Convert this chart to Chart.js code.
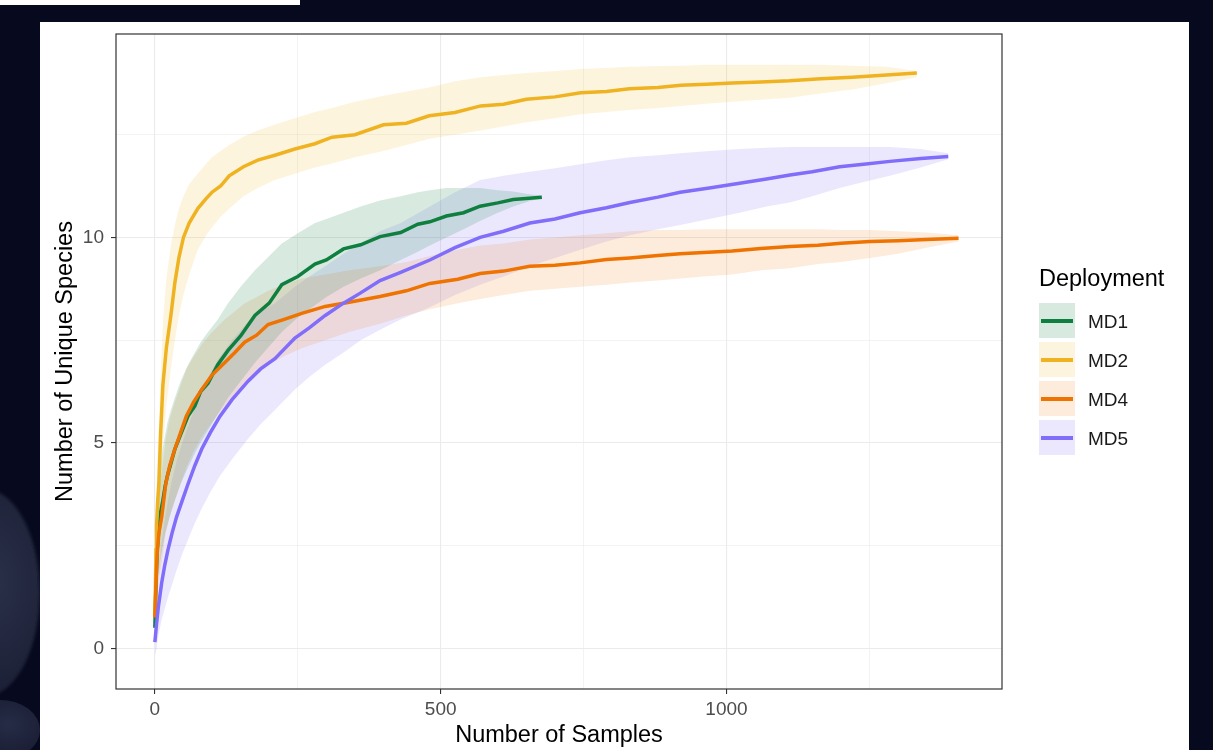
<!DOCTYPE html>
<html>
<head>
<meta charset="utf-8">
<title>Rarefaction by deployment</title>
<script src="https://cdn.jsdelivr.net/npm/chart.js@4.4.1/dist/chart.umd.min.js"></script>
<style>
    html, body { margin: 0; padding: 0; }
    body {
        width: 1213px;
        height: 750px;
        background: #070a1e;
        position: relative;
        overflow: hidden;
        font-family: "Liberation Sans", Arial, sans-serif;
    }
    .strip { position: absolute; left: 0; top: 0; width: 300px; height: 5px; background: #fff; }
    .blob {
        position: absolute; left: -72px; top: 490px; width: 110px; height: 205px;
        border-radius: 50%;
        background: radial-gradient(ellipse at 60% 45%, #2a3049 0%, #1f243b 55%, #12162a 100%);
        box-shadow: 0 0 5px rgba(140, 150, 185, 0.4);
    }
    .blob2 {
        position: absolute; left: -40px; top: 700px; width: 80px; height: 60px;
        border-radius: 50%;
        background: radial-gradient(ellipse at 60% 40%, #262c46 0%, #12162a 100%);
    }
    .panel { position: absolute; left: 40px; top: 22px; width: 1149px; height: 728px; background: #fff; }
    .panel canvas { position: absolute; left: 0; top: 0; }
    .legend-title { position: absolute; left: 999px; top: 243px; font-size: 23.5px; color: #000; }
    .key { position: absolute; left: 999px; width: 36px; height: 35px; }
    .key span { position: absolute; left: 2px; top: 15.5px; width: 32px; height: 4px; }
    .key-label { position: absolute; left: 1048px; font-size: 19px; color: #1a1a1a; line-height: 22px; }
</style>
</head>
<body>
<div class="strip"></div>
<div class="blob"></div>
<div class="blob2"></div>
<div class="panel">
    <canvas id="rarefaction-chart" width="1149" height="728"></canvas>
    <div class="legend-title">Deployment</div>
    <div id="legend"></div>
</div>
<script>
// Axis ticks
var xMajor = [0, 500, 1000];
var xMinor = [250, 750, 1250];
var yMajor = [0, 5, 10];
var yMinor = [2.5, 7.5, 12.5];

var deployments = ['MD1', 'MD2', 'MD4', 'MD5'];
var lineColors = ['#0f7f3f', '#efb321', '#ef7300', '#806dfa'];
var bandColors = ['rgba(15,127,63,0.16)', 'rgba(239,179,33,0.15)', 'rgba(239,115,0,0.14)', 'rgba(128,109,250,0.16)'];

// MD1
var md1X  = [0, 2, 4, 7, 10, 14, 18, 22, 28, 35, 45, 58, 70, 80, 93, 110, 128, 150, 175, 200, 222, 250, 280, 300, 330, 360, 394, 430, 460, 481, 510, 540, 569, 600, 627, 655, 677];
var md1Y  = [0.5, 1.6, 2.4, 2.9, 3.3, 3.6, 3.95, 4.2, 4.5, 4.85, 5.2, 5.65, 5.9, 6.25, 6.45, 6.9, 7.25, 7.6, 8.1, 8.4, 8.85, 9.05, 9.35, 9.45, 9.72, 9.82, 10.02, 10.12, 10.32, 10.38, 10.52, 10.6, 10.76, 10.84, 10.92, 10.95, 10.98];
var md1Lo = [0.0, 0.8, 1.4, 1.9, 2.2, 2.5, 2.8, 3.0, 3.3, 3.6, 4.0, 4.4, 4.75, 5.0, 5.3, 5.7, 6.1, 6.5, 6.95, 7.35, 7.7, 8.05, 8.35, 8.55, 8.8, 9.0, 9.2, 9.45, 9.65, 9.8, 10.0, 10.2, 10.4, 10.6, 10.75, 10.88, 10.95];
var md1Hi = [1.0, 2.5, 3.4, 4.0, 4.5, 4.9, 5.2, 5.5, 5.8, 6.1, 6.5, 6.9, 7.2, 7.45, 7.7, 8.0, 8.4, 8.8, 9.2, 9.55, 9.85, 10.1, 10.35, 10.45, 10.6, 10.75, 10.9, 11.0, 11.1, 11.15, 11.2, 11.2, 11.2, 11.15, 11.12, 11.05, 11.02];

// MD2
var md2X  = [0, 1, 2, 3, 5, 7, 10, 14, 20, 28, 35, 42, 50, 60, 75, 90, 100, 115, 130, 155, 180, 210, 245, 280, 310, 350, 400, 440, 480, 525, 570, 610, 650, 700, 745, 790, 830, 880, 920, 965, 1010, 1060, 1110, 1165, 1220, 1280, 1333];
var md2Y  = [0.8, 1.5, 2.4, 3.0, 3.6, 4.0, 5.2, 6.4, 7.3, 8.1, 8.9, 9.5, 10.0, 10.35, 10.7, 10.95, 11.1, 11.25, 11.5, 11.72, 11.88, 12.0, 12.15, 12.28, 12.44, 12.5, 12.74, 12.78, 12.96, 13.04, 13.2, 13.24, 13.36, 13.42, 13.52, 13.55, 13.62, 13.65, 13.7, 13.73, 13.76, 13.78, 13.81, 13.86, 13.9, 13.95, 14.0];
var md2Lo = [0.3, 0.8, 1.4, 1.9, 2.4, 2.9, 3.9, 4.9, 5.9, 6.8, 7.5, 8.1, 8.6, 9.1, 9.7, 10.05, 10.25, 10.5, 10.7, 11.0, 11.2, 11.4, 11.55, 11.7, 11.8, 11.95, 12.1, 12.25, 12.4, 12.5, 12.6, 12.7, 12.8, 12.9, 13.0, 13.05, 13.1, 13.15, 13.2, 13.25, 13.3, 13.35, 13.4, 13.5, 13.6, 13.75, 13.9];
var md2Hi = [1.4, 2.3, 3.3, 4.0, 4.8, 5.4, 6.6, 7.9, 9.0, 9.8, 10.3, 10.7, 11.0, 11.3, 11.55, 11.8, 11.95, 12.1, 12.25, 12.45, 12.6, 12.75, 12.9, 13.05, 13.15, 13.3, 13.45, 13.55, 13.65, 13.8, 13.9, 13.95, 14.0, 14.05, 14.1, 14.12, 14.15, 14.17, 14.18, 14.2, 14.2, 14.2, 14.2, 14.2, 14.18, 14.15, 14.05];

// MD4
var md4X  = [0, 2, 4, 7, 12, 19, 26, 35, 45, 55, 68, 82, 100, 122, 140, 157, 178, 198, 225, 257, 298, 340, 394, 440, 481, 530, 569, 610, 656, 700, 744, 790, 831, 880, 919, 960, 1010, 1060, 1111, 1160, 1200, 1251, 1300, 1350, 1406];
var md4Y  = [0.75, 1.6, 2.3, 2.8, 3.2, 4.0, 4.45, 4.85, 5.25, 5.65, 6.0, 6.3, 6.65, 6.95, 7.2, 7.45, 7.62, 7.88, 8.0, 8.15, 8.32, 8.42, 8.56, 8.7, 8.88, 8.98, 9.12, 9.18, 9.3, 9.32, 9.38, 9.46, 9.5, 9.56, 9.6, 9.63, 9.67, 9.73, 9.78, 9.81, 9.86, 9.9, 9.92, 9.95, 9.98];
var md4Lo = [0.1, 0.8, 1.3, 1.7, 2.1, 2.8, 3.2, 3.6, 4.0, 4.4, 4.8, 5.15, 5.5, 5.9, 6.2, 6.45, 6.7, 6.9, 7.1, 7.3, 7.5, 7.7, 7.9, 8.1, 8.25, 8.4, 8.5, 8.6, 8.7, 8.75, 8.8, 8.85, 8.9, 8.95, 9.0, 9.05, 9.1, 9.2, 9.25, 9.35, 9.4, 9.5, 9.6, 9.75, 9.9];
var md4Hi = [1.4, 2.4, 3.2, 3.8, 4.3, 5.1, 5.6, 6.0, 6.4, 6.8, 7.1, 7.4, 7.7, 8.0, 8.2, 8.4, 8.55, 8.7, 8.85, 9.0, 9.1, 9.2, 9.3, 9.4, 9.55, 9.7, 9.8, 9.85, 9.95, 10.0, 10.05, 10.1, 10.15, 10.18, 10.18, 10.2, 10.2, 10.2, 10.2, 10.2, 10.18, 10.18, 10.15, 10.12, 10.05];

// MD5
var md5X  = [0, 3, 6, 9, 12, 17, 23, 30, 38, 48, 58, 70, 82, 97, 114, 135, 163, 185, 210, 245, 270, 298, 330, 360, 394, 430, 481, 525, 569, 610, 656, 700, 744, 790, 831, 880, 919, 970, 1023, 1070, 1111, 1150, 1198, 1240, 1286, 1340, 1388];
var md5Y  = [0.15, 0.6, 1.0, 1.3, 1.6, 2.0, 2.4, 2.8, 3.2, 3.6, 4.0, 4.45, 4.85, 5.25, 5.65, 6.05, 6.5, 6.8, 7.05, 7.55, 7.8, 8.1, 8.4, 8.65, 8.95, 9.15, 9.45, 9.75, 10.0, 10.15, 10.35, 10.45, 10.6, 10.72, 10.85, 10.98, 11.1, 11.2, 11.32, 11.42, 11.52, 11.6, 11.72, 11.78, 11.85, 11.92, 11.97];
var md5Lo = [-0.2, 0.0, 0.3, 0.5, 0.7, 0.95, 1.25, 1.55, 1.9, 2.3, 2.65, 3.05, 3.4, 3.8, 4.2, 4.6, 5.1, 5.45, 5.8, 6.3, 6.6, 6.9, 7.2, 7.5, 7.75, 8.0, 8.3, 8.6, 8.85, 9.05, 9.3, 9.5, 9.7, 9.9, 10.05, 10.2, 10.3, 10.45, 10.6, 10.75, 10.85, 11.0, 11.2, 11.35, 11.5, 11.7, 11.9];
var md5Hi = [0.6, 1.3, 1.8, 2.2, 2.6, 3.1, 3.6, 4.1, 4.55, 5.0, 5.4, 5.85, 6.3, 6.7, 7.1, 7.5, 7.95, 8.2, 8.4, 8.8, 9.05, 9.3, 9.6, 9.85, 10.15, 10.35, 10.75, 11.1, 11.4, 11.5, 11.6, 11.68, 11.78, 11.88, 11.95, 12.0, 12.05, 12.1, 12.15, 12.18, 12.2, 12.2, 12.2, 12.2, 12.2, 12.15, 12.05];

var seriesX  = [md1X, md2X, md4X, md5X];
var seriesY  = [md1Y, md2Y, md4Y, md5Y];
var seriesLo = [md1Lo, md2Lo, md4Lo, md5Lo];
var seriesHi = [md1Hi, md2Hi, md4Hi, md5Hi];

function points(xs, ys) {
    return xs.map(function(x, i) { return {x: x, y: ys[i]}; });
}

function isIn(list, v) {
    return list.indexOf(v) !== -1;
}

var FONT = '"Liberation Sans", Arial, sans-serif';

var datasets = [];
// ribbons first (hi fills down to the lo dataset right after it)
deployments.forEach(function(name, i) {
    datasets.push({
        label: name + ' hi',
        data: points(seriesX[i], seriesHi[i]),
        borderWidth: 0,
        pointRadius: 0,
        backgroundColor: bandColors[i],
        fill: '+1',
        order: 10 + i
    });
    datasets.push({
        label: name + ' lo',
        data: points(seriesX[i], seriesLo[i]),
        borderWidth: 0,
        pointRadius: 0,
        fill: false,
        order: 10 + i
    });
});
// then the lines, MD5 on top
deployments.forEach(function(name, i) {
    datasets.push({
        label: name,
        data: points(seriesX[i], seriesY[i]),
        borderColor: lineColors[i],
        borderWidth: 3.5,
        pointRadius: 0,
        fill: false,
        tension: 0,
        order: 4 - i
    });
});

var panelBorder = {
    id: 'panelBorder',
    afterDraw: function(chart) {
        var a = chart.chartArea;
        var ctx = chart.ctx;
        ctx.save();
        ctx.strokeStyle = '#333333';
        ctx.lineWidth = 1.2;
        ctx.strokeRect(a.left, a.top, a.right - a.left, a.bottom - a.top);
        ctx.restore();
    }
};

new Chart(document.getElementById('rarefaction-chart'), {
    type: 'line',
    data: { datasets: datasets },
    plugins: [panelBorder],
    options: {
        responsive: false,
        animation: false,
        layout: { padding: { top: 12, right: 187, left: 0, bottom: 0 } },
        plugins: {
            legend: { display: false },
            tooltip: { enabled: false },
            filler: { drawTime: 'beforeDatasetsDraw' }
        },
        scales: {
            x: {
                type: 'linear',
                min: -68,
                max: 1482,
                afterBuildTicks: function(scale) {
                    scale.ticks = xMajor.concat(xMinor).sort(function(a, b) { return a - b; })
                        .map(function(v) { return {value: v}; });
                },
                afterFit: function(scale) {
                    scale.height = 61;
                    scale.paddingLeft = 0;
                    scale.paddingRight = 0;
                },
                ticks: {
                    autoSkip: false,
                    maxRotation: 0,
                    padding: 4,
                    color: '#4d4d4d',
                    font: { family: FONT, size: 19 },
                    callback: function(v) { return isIn(xMajor, v) ? String(v) : ''; }
                },
                grid: {
                    color: '#ebebeb',
                    lineWidth: function(ctx) { return ctx.tick && isIn(xMajor, ctx.tick.value) ? 1.1 : 0.6; },
                    tickColor: function(ctx) { return ctx.tick && isIn(xMajor, ctx.tick.value) ? '#333333' : 'rgba(0,0,0,0)'; },
                    tickLength: 5,
                    tickWidth: 1.1
                },
                border: { display: false },
                title: {
                    display: true,
                    text: 'Number of Samples',
                    color: '#000',
                    font: { family: FONT, size: 23.5 },
                    padding: { top: 0, bottom: 0 }
                }
            },
            y: {
                type: 'linear',
                min: -0.99,
                max: 14.95,
                afterBuildTicks: function(scale) {
                    scale.ticks = yMajor.concat(yMinor).sort(function(a, b) { return a - b; })
                        .map(function(v) { return {value: v}; });
                },
                afterFit: function(scale) {
                    scale.width = 76;
                    scale.paddingTop = 0;
                    scale.paddingBottom = 0;
                },
                ticks: {
                    autoSkip: false,
                    padding: 7,
                    color: '#4d4d4d',
                    font: { family: FONT, size: 19 },
                    callback: function(v) { return isIn(yMajor, v) ? String(v) : ''; }
                },
                grid: {
                    color: '#ebebeb',
                    lineWidth: function(ctx) { return ctx.tick && isIn(yMajor, ctx.tick.value) ? 1.1 : 0.6; },
                    tickColor: function(ctx) { return ctx.tick && isIn(yMajor, ctx.tick.value) ? '#333333' : 'rgba(0,0,0,0)'; },
                    tickLength: 5,
                    tickWidth: 1.1
                },
                border: { display: false },
                title: {
                    display: true,
                    text: 'Number of Unique Species',
                    color: '#000',
                    font: { family: FONT, size: 23.5 },
                    padding: { top: 11, bottom: 0 }
                }
            }
        }
    }
});

// legend keys: band colour box with the line through it
var legend = document.getElementById('legend');
var keyTops = [281, 320, 359, 398];
deployments.forEach(function(name, i) {
    var key = document.createElement('div');
    key.className = 'key';
    key.style.top = keyTops[i] + 'px';
    key.style.background = bandColors[i];
    var line = document.createElement('span');
    line.style.background = lineColors[i];
    key.appendChild(line);
    legend.appendChild(key);

    var label = document.createElement('div');
    label.className = 'key-label';
    label.style.top = (keyTops[i] + 8) + 'px';
    label.textContent = name;
    legend.appendChild(label);
});
</script>
</body>
</html>
